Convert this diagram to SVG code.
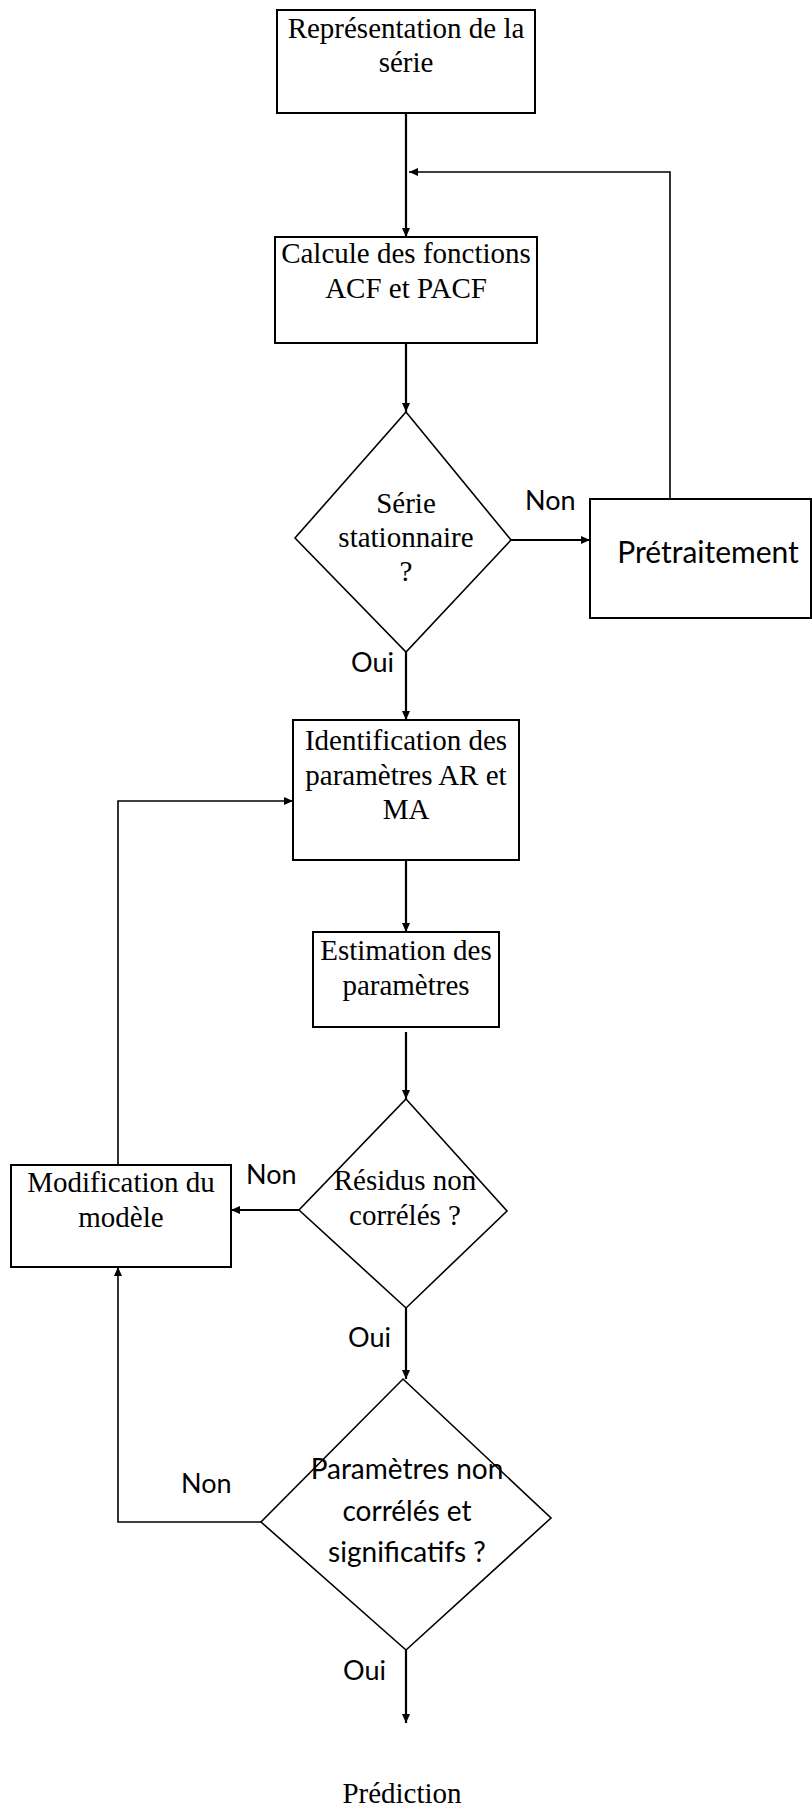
<svg xmlns="http://www.w3.org/2000/svg" width="812" height="1809" viewBox="0 0 812 1809">
<style>
.box{fill:#fff;stroke:#000;stroke-width:2}
.dia{fill:#fff;stroke:#000;stroke-width:1.6}
.t{font-family:"Liberation Serif","Times New Roman",serif;font-size:29px;fill:#000;text-anchor:middle}
.c{font-family:Lato,"Liberation Sans",sans-serif;fill:#000}
.ln{fill:none;stroke:#000;stroke-width:2.2}
.thin{fill:none;stroke:#000;stroke-width:1.6}
</style>
<defs>
<marker id="ah" markerUnits="userSpaceOnUse" markerWidth="10" markerHeight="10" viewBox="0 0 10 10" refX="9" refY="5" orient="auto">
<path d="M0,1 L9,5 L0,9 Z" fill="#000"/>
</marker>
</defs>
<rect width="812" height="1809" fill="#fff"/>
<g id="connectors">
<path class="ln" d="M406,113 V237" marker-end="url(#ah)"/>
<path class="thin" d="M670,499 V172 H409" marker-end="url(#ah)"/>
<path class="ln" d="M406,343 V412" marker-end="url(#ah)"/>
<path class="ln" d="M511,540 H590" marker-end="url(#ah)"/>
<path class="ln" d="M406,652 V720" marker-end="url(#ah)"/>
<path class="thin" d="M118,1165 V801 H293" marker-end="url(#ah)"/>
<path class="ln" d="M406,860 V932" marker-end="url(#ah)"/>
<path class="ln" d="M406,1032 V1099" marker-end="url(#ah)"/>
<path class="ln" d="M299,1210 H231" marker-end="url(#ah)"/>
<path class="ln" d="M406,1308 V1379" marker-end="url(#ah)"/>
<path class="thin" d="M261,1522 H118 V1267" marker-end="url(#ah)"/>
<path class="ln" d="M406,1650 V1723" marker-end="url(#ah)"/>
</g>
<g id="labels">
<text class="c" x="525" y="510" font-size="27">Non</text>
<text class="c" x="351" y="672" font-size="27">Oui</text>
<text class="c" x="246" y="1184" font-size="27">Non</text>
<text class="c" x="348" y="1347" font-size="27">Oui</text>
<text class="c" x="181" y="1493" font-size="27">Non</text>
<text class="c" x="343" y="1680" font-size="27">Oui</text>
</g>
<g id="n1">
<rect class="box" x="277" y="10" width="258" height="103"/>
<text class="t" x="406" y="38">Représentation de la</text>
<text class="t" x="406" y="72">série</text>
</g>
<g id="n2">
<rect class="box" x="275" y="237" width="262" height="106"/>
<text class="t" x="406" y="263">Calcule des fonctions</text>
<text class="t" x="406" y="298">ACF et PACF</text>
</g>
<g id="d1">
<polygon class="dia" points="406,412 511,540 406,652 295,538"/>
<text class="t" x="406" y="513">Série</text>
<text class="t" x="406" y="547">stationnaire</text>
<text class="t" x="406" y="581">?</text>
</g>
<g id="n_pre">
<rect class="box" x="590" y="499" width="221" height="119"/>
<text class="c" x="708" y="563" font-size="30" text-anchor="middle">Prétraitement</text>
</g>
<g id="n3">
<rect class="box" x="293" y="720" width="226" height="140"/>
<text class="t" x="406" y="750">Identification des</text>
<text class="t" x="406" y="785">paramètres AR et</text>
<text class="t" x="406" y="819">MA</text>
</g>
<g id="n4">
<rect class="box" x="313" y="932" width="186" height="95"/>
<text class="t" x="406" y="960">Estimation des</text>
<text class="t" x="406" y="995">paramètres</text>
</g>
<g id="d2">
<polygon class="dia" points="406,1099 507,1211 406,1308 299,1210"/>
<text class="t" x="405" y="1190">Résidus non</text>
<text class="t" x="405" y="1225">corrélés ?</text>
</g>
<g id="n_mod">
<rect class="box" x="11" y="1165" width="220" height="102"/>
<text class="t" x="121" y="1192">Modification du</text>
<text class="t" x="121" y="1227">modèle</text>
</g>
<g id="d3">
<polygon class="dia" points="403,1379 551,1518 406,1650 261,1522"/>
<text class="c" x="407" y="1479" font-size="28" text-anchor="middle">Paramètres non</text>
<text class="c" x="407" y="1521" font-size="28" text-anchor="middle">corrélés et</text>
<text class="c" x="407" y="1562" font-size="28" text-anchor="middle">significatifs ?</text>
</g>
<g id="n_pred">
<text class="t" x="402" y="1803">Prédiction</text>
</g>
</svg>
